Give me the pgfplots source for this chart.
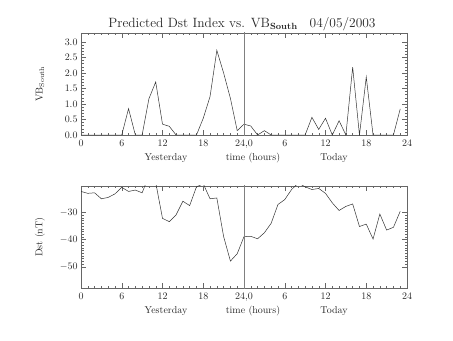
\documentclass[border=0pt]{standalone}
\usepackage{pgfplots}
\pgfplotsset{compat=1.18}
\begin{document}
\begin{tikzpicture}[x=1bp,y=1bp]
\useasboundingbox (0,0) rectangle (453,340);
\pgfplotsset{
  idl/.style={
    scale only axis, width=326bp, height=102bp,
    xmin=0, xmax=48,
    xtick={0,6,...,48},
    xticklabels={0,6,12,18,{24,0},6,12,18,24},
    minor x tick num=5,
    tick align=inside,
    major tick length=5bp, minor tick length=2.5bp,
    axis line style={black!60, line width=0.5pt},
    every tick/.style={black!60, line width=0.4pt},
    tick label style={font=\fontsize{10}{12}\selectfont, black!85},
    xticklabel style={yshift=-1bp},
    clip=true,
  }
}
% ---------- top: VB South ----------
\begin{axis}[idl, at={(81bp,205bp)}, anchor=south west,
  ymin=0, ymax=3.29,
  ytick={0,0.5,...,3.0},
  yticklabel style={/pgf/number format/.cd, fixed, fixed zerofill, precision=1},
  minor y tick num=4]
\addplot[black!80, line width=0.5pt] coordinates {
(0,0)(1,0)(2,0)(3,0)(4,0)(5,0)(6,0)(7,0.85)(8,0)(9,0)(10,1.17)(11,1.71)
(12,0.35)(13,0.28)(14,0)(15,0)(16,0)(17,0)(18,0.54)(19,1.24)(20,2.73)(21,2.0)
(22,1.18)(23,0.14)(24,0.35)(25,0.29)(26,0)(27,0.14)(28,0)(29,0)(30,0)(31,0)
(32,0)(33,0)(34,0.57)(35,0.18)(36,0.54)(37,0)(38,0.46)(39,0)(40,2.19)(41,0)
(42,1.87)(43,0)(44,0)(45,0)(46,0)(47,0.84)};
\addplot[black!50, line width=0.5pt] coordinates {(24,-1)(24,4)};
\end{axis}
% ---------- bottom: Dst ----------
\begin{axis}[idl, at={(81bp,52bp)}, anchor=south west,
  ymin=-57.8, ymax=-20.3,
  ytick={-50,-40,-30},
  minor y tick num=9]
\addplot[black!80, line width=0.5pt] coordinates {
(0,-22.3)(1,-23.0)(2,-22.8)(3,-25.0)(4,-24.5)(5,-23.2)(6,-20.8)(7,-22.3)
(8,-21.8)(9,-22.8)(10,-16.5)(11,-19.0)(12,-32.2)(13,-33.4)(14,-30.9)(15,-25.9)
(16,-27.5)(17,-20.6)(18,-19.5)(19,-25.0)(20,-24.7)(21,-38.9)(22,-47.9)(23,-45.2)
(24,-38.9)(25,-38.8)(26,-39.7)(27,-37.5)(28,-34.0)(29,-27.1)(30,-25.3)(31,-21.6)
(32,-19.2)(33,-20.6)(34,-21.6)(35,-21.2)(36,-23.0)(37,-26.5)(38,-29.3)(39,-27.8)
(40,-26.9)(41,-35.2)(42,-34.3)(43,-39.8)(44,-30.6)(45,-36.5)(46,-35.5)(47,-29.6)};
\addplot[black!50, line width=0.5pt] coordinates {(24,-100)(24,0)};
\end{axis}
% ---------- text ----------
\node[font=\fontsize{13.5}{16}\selectfont, black!85] at (242,316)
  {Predicted Dst Index vs. VB$_{\mathbf{South}}$\hspace{12bp}04/05/2003};
\foreach \yy in {182,29} {
  \node[font=\fontsize{10}{12}\selectfont, black!85] at (166,\yy) {Yesterday};
  \node[font=\fontsize{10}{12}\selectfont, black!85] at (253,\yy) {time (hours)};
  \node[font=\fontsize{10}{12}\selectfont, black!85] at (334,\yy) {Today};
}
\node[font=\fontsize{10}{12}\selectfont, black!85, rotate=90] at (40,256) {VB$_{\mathrm{South}}$};
\node[font=\fontsize{10}{12}\selectfont, black!85, rotate=90] at (40,103) {Dst (nT)};
\end{tikzpicture}
\end{document}
